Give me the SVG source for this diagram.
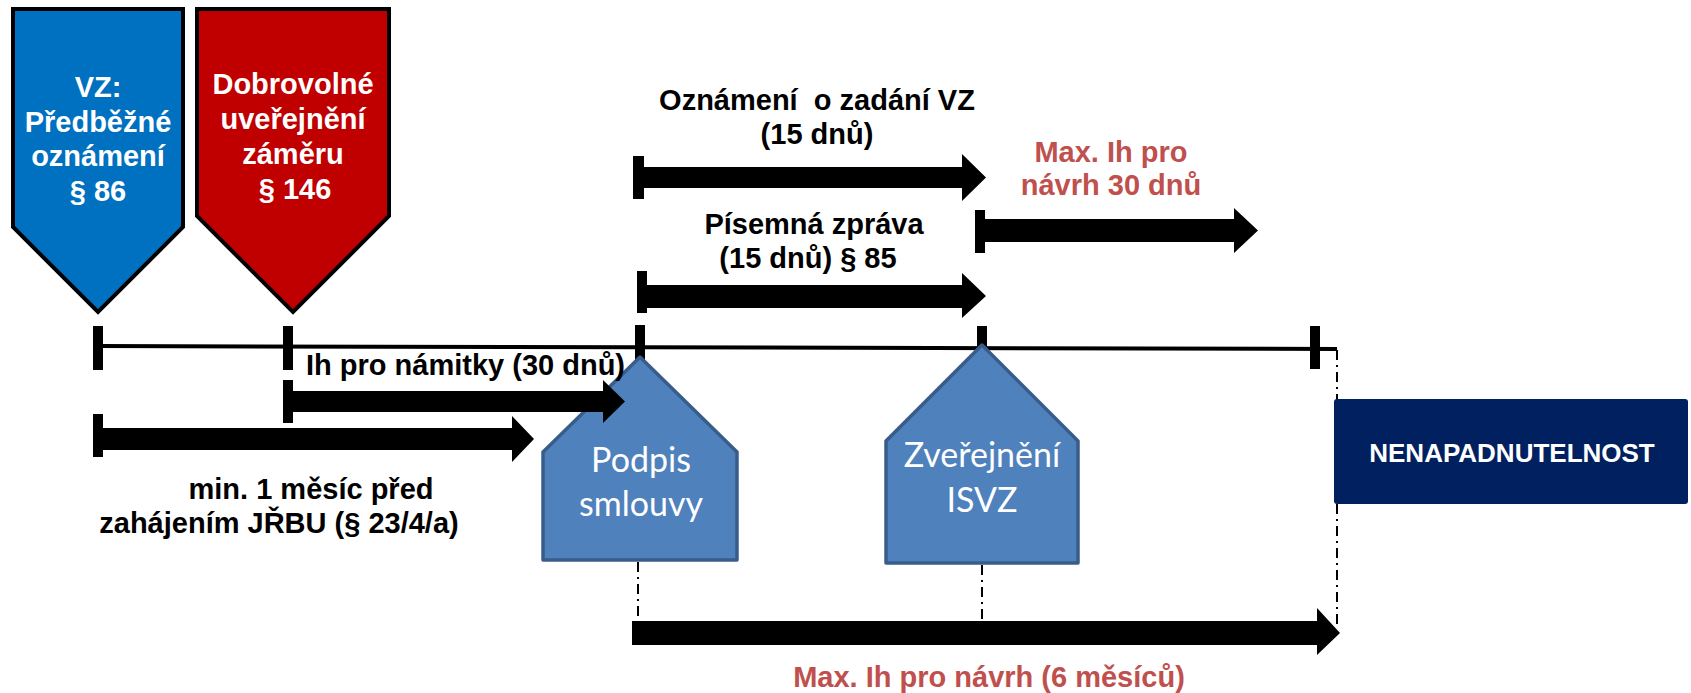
<svg xmlns="http://www.w3.org/2000/svg" width="1691" height="693" viewBox="0 0 1691 693">
<style>
.lbl{font-family:"Liberation Sans",Arial,sans-serif;font-weight:bold;font-size:29px;fill:#000;text-anchor:middle}
.red{fill:#C0504D}
.wht{fill:#fff}
.house{fill:#4F81BD;stroke:#385D8A;stroke-width:3.5;stroke-linejoin:round}
.htxt{font-family:Lato,"Open Sans",sans-serif;font-size:34px;fill:#fff;text-anchor:middle}
.dd{stroke:#000;stroke-width:2;stroke-dasharray:10 5 2 5;fill:none}
.arr{fill:#000}
</style>
<rect width="1691" height="693" fill="#fff"/>
<g id="timeline">
<line x1="98" y1="346" x2="1337" y2="349" stroke="#000" stroke-width="4"/>
<rect x="93" y="326" width="10" height="44"/>
<rect x="283" y="326" width="10" height="44"/>
<rect x="635" y="325" width="10" height="44"/>
<rect x="977" y="326" width="10" height="44"/>
<rect x="1310" y="326" width="10" height="43"/>
</g>
<g id="node-vz-predbezne">
<path d="M13,9 H183 V227 L98,312 L13,227 Z" fill="#0070C0" stroke="#000" stroke-width="4"/>
<text class="lbl wht" x="98" y="97">VZ:</text>
<text class="lbl wht" x="98" y="132">Předběžné</text>
<text class="lbl wht" x="98" y="166">oznámení</text>
<text class="lbl wht" x="98" y="201">§ 86</text>
</g>
<g id="node-dobrovolne">
<path d="M197,9 H389 V216 L293,312 L197,216 Z" fill="#C00000" stroke="#000" stroke-width="4"/>
<text class="lbl wht" x="293" y="94">Dobrovolné</text>
<text class="lbl wht" x="293" y="129">uveřejnění</text>
<text class="lbl wht" x="293" y="164">záměru</text>
<text class="lbl wht" x="295" y="199">§ 146</text>
</g>
<g id="node-podpis">
<path class="house" d="M640,357 L737,452 V560 H543 V452 Z"/>
<text class="htxt" x="641" y="472">Podpis</text>
<text class="htxt" x="641" y="516">smlouvy</text>
</g>
<g id="node-zverejneni">
<path class="house" d="M982,345 L1078,441 V563 H886 V441 Z"/>
<text class="htxt" x="982" y="467">Zveřejnění</text>
<text class="htxt" x="982" y="512">ISVZ</text>
</g>
<g id="connectors">
<line class="dd" x1="638" y1="562" x2="638" y2="621"/>
<line class="dd" x1="982" y1="565" x2="982" y2="621"/>
<line class="dd" x1="1337" y1="350" x2="1337" y2="625"/>
<path class="arr" d="M633,156 H644 V167 H962 V154 L986,177.5 L962,201 V188 H644 V199 H633 Z"/>
<path class="arr" d="M637,271 H647 V285 H962 V273 L986,296 L962,318 V308 H647 V313 H637 Z"/>
<path class="arr" d="M975,210 H985 V219 H1234 V208 L1258,230.5 L1234,253 V242 H985 V253 H975 Z"/>
<path class="arr" d="M283,380 H293 V391 H603 V380 L625,401.5 L603,423 V412 H293 V423 H283 Z"/>
<path class="arr" d="M93,414 H103 V428 H512 V416 L534,439 L512,462 V450 H103 V457 H93 Z"/>
<path class="arr" d="M632,621 H1317 V608 L1340,633 L1317,655 V645 H632 Z"/>
</g>
<g id="node-nenapadnutelnost">
<rect x="1334" y="399" width="354" height="105" rx="3" fill="#002060"/>
<text class="lbl wht" x="1512" y="462" style="font-size:26px">NENAPADNUTELNOST</text>
</g>
<g id="labels">
<text class="lbl" x="817" y="110" xml:space="preserve" style="white-space:pre">Oznámení  o zadání VZ</text>
<text class="lbl" x="817" y="144">(15 dnů)</text>
<text class="lbl" x="814" y="234">Písemná zpráva</text>
<text class="lbl" x="808" y="268">(15 dnů) § 85</text>
<text class="lbl red" x="1111" y="162">Max. Ih pro</text>
<text class="lbl red" x="1111" y="195">návrh 30 dnů</text>
<text class="lbl" x="306" y="375" style="text-anchor:start">Ih pro námitky (30 dnů)</text>
<text class="lbl" x="311" y="499">min. 1 měsíc před</text>
<text class="lbl" x="279" y="533">zahájením JŘBU (§ 23/4/a)</text>
<text class="lbl red" x="989" y="687">Max. Ih pro návrh (6 měsíců)</text>
</g>
</svg>
